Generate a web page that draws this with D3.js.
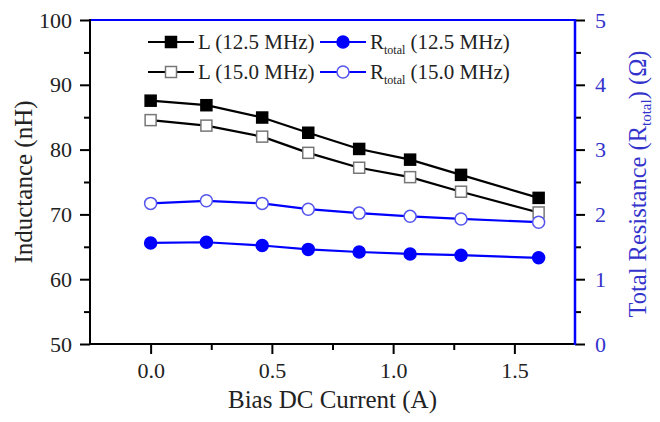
<!DOCTYPE html>
<html><head><meta charset="utf-8">
<script src="https://cdn.jsdelivr.net/npm/d3@7"></script>
<style>body{margin:0;background:#fff}svg{display:block}text{font-family:"Liberation Serif","Times New Roman",serif}</style>
</head><body>
<svg id="c" width="660" height="422"></svg>
<script>
const current = [0.0, 0.23, 0.46, 0.65, 0.86, 1.07, 1.28, 1.60];
const L125 = [87.55, 86.85, 84.95, 82.6, 80.1, 78.45, 76.1, 72.55];
const L150 = [84.55, 83.7, 82.0, 79.5, 77.2, 75.75, 73.5, 70.3];
const R125 = [1.56, 1.57, 1.52, 1.46, 1.42, 1.39, 1.37, 1.33];
const R150 = [2.17, 2.21, 2.17, 2.08, 2.02, 1.97, 1.93, 1.88];
const xTicks = [0.0, 0.5, 1.0, 1.5];
const yLTicks = [50, 60, 70, 80, 90, 100];
const yRTicks = [0, 1, 2, 3, 4, 5];

const svg = d3.select("#c");
const m = {l:90, r:575, t:20, b:344};
const x = d3.scaleLinear().domain([-0.25, 1.75]).range([m.l, m.r]);
const yL = d3.scaleLinear().domain([50, 100]).range([m.b, m.t]);
const yR = d3.scaleLinear().domain([0, 5]).range([m.b, m.t]);
const blue = "#0000ff";
const fs = 22;

// x axis
const gx = svg.append("g").attr("transform",`translate(0,${m.b})`);
gx.call(d3.axisBottom(x).tickValues([0.25,0.75,1.25]).tickSize(6).tickFormat(""));
gx.select(".domain").remove(); gx.selectAll("line").attr("stroke","#000").attr("stroke-width",2);
const gx2 = svg.append("g").attr("transform",`translate(0,${m.b})`);
gx2.call(d3.axisBottom(x).tickValues(xTicks).tickSize(10).tickPadding(8).tickFormat(d3.format(".1f")));
gx2.select(".domain").remove();
gx2.selectAll("line").attr("stroke","#000").attr("stroke-width",2);
gx2.selectAll("text").attr("font-size",fs).attr("fill","#222").attr("font-family","Liberation Serif");

// left axis
const gl = svg.append("g").attr("transform",`translate(${m.l},0)`);
gl.call(d3.axisLeft(yL).tickValues([55,65,75,85,95]).tickSize(6).tickFormat(""));
gl.select(".domain").remove(); gl.selectAll("line").attr("stroke","#000").attr("stroke-width",2);
const gl2 = svg.append("g").attr("transform",`translate(${m.l},0)`);
gl2.call(d3.axisLeft(yL).tickValues(yLTicks).tickSize(10).tickPadding(8));
gl2.select(".domain").remove(); gl2.selectAll("line").attr("stroke","#000").attr("stroke-width",2);
gl2.selectAll("text").attr("font-size",fs).attr("fill","#222").attr("font-family","Liberation Serif");

// right axis
const gr = svg.append("g").attr("transform",`translate(${m.r},0)`);
gr.call(d3.axisRight(yR).tickValues([0.5,1.5,2.5,3.5,4.5]).tickSize(6).tickFormat(""));
gr.select(".domain").remove(); gr.selectAll("line").attr("stroke","#000").attr("stroke-width",2);
const gr2 = svg.append("g").attr("transform",`translate(${m.r},0)`);
gr2.call(d3.axisRight(yR).tickValues(yRTicks).tickSize(10).tickPadding(10).tickFormat(d3.format("d")));
gr2.select(".domain").remove(); gr2.selectAll("line").attr("stroke","#000").attr("stroke-width",2);
gr2.selectAll("text").attr("font-size",fs).attr("fill","#3333cc").attr("font-family","Liberation Serif");

// frame
svg.append("line").attr("x1",m.l).attr("x2",m.r).attr("y1",m.t).attr("y2",m.t).attr("stroke",blue).attr("stroke-width",2);
svg.append("line").attr("x1",m.l-1).attr("x2",m.r).attr("y1",m.b).attr("y2",m.b).attr("stroke","#000").attr("stroke-width",2);
svg.append("line").attr("x1",m.l).attr("x2",m.l).attr("y1",m.t-1).attr("y2",m.b+1).attr("stroke","#000").attr("stroke-width",2);
svg.append("line").attr("x1",m.r).attr("x2",m.r).attr("y1",m.t-1).attr("y2",m.b+1).attr("stroke",blue).attr("stroke-width",2.5);

// titles
svg.append("text").attr("x",(m.l+m.r)/2).attr("y",408).attr("text-anchor","middle").attr("font-size",25).attr("fill","#222").text("Bias DC Current (A)");
svg.append("text").attr("transform",`translate(32,${182}) rotate(-90)`).attr("text-anchor","middle").attr("font-size",25).attr("fill","#222").text("Inductance (nH)");
const rt = svg.append("text").attr("transform",`translate(646,184) rotate(-90)`).attr("text-anchor","middle").attr("font-size",24.5).attr("fill","#3333cc");
rt.append("tspan").text("Total Resistance (R");
rt.append("tspan").attr("font-size",15).attr("dy",5).text("total");
rt.append("tspan").attr("dy",-5).text(") (\u03A9)");

// series
const series = [
  {ys:L125, sc:yL, line:"#000", shape:"square", fill:"#000", stroke:"#000"},
  {ys:L150, sc:yL, line:"#000", shape:"square", fill:"#fff", stroke:"#777"},
  {ys:R150, sc:yR, line:blue, shape:"circle", fill:"#fff", stroke:"#5555ee"},
  {ys:R125, sc:yR, line:blue, shape:"circle", fill:blue, stroke:blue}
];
function marker(g, shape, cx, cy, fill, stroke){
  if(shape==="square") g.append("rect").attr("x",cx-5.5).attr("y",cy-5.5).attr("width",11).attr("height",11).attr("fill",fill).attr("stroke",stroke).attr("stroke-width",1.5);
  else g.append("circle").attr("cx",cx).attr("cy",cy).attr("r",6).attr("fill",fill).attr("stroke",stroke).attr("stroke-width",1.5);
}
series.forEach(s=>{
  const pts = current.map((c,i)=>[x(c), s.sc(s.ys[i])]);
  svg.append("path").attr("d",d3.line()(pts)).attr("fill","none").attr("stroke",s.line).attr("stroke-width",2.2);
  const g = svg.append("g");
  pts.forEach(p=>marker(g, s.shape, p[0], p[1], s.fill, s.stroke));
});

// legend
const leg = [
  {x1:148, y:42, line:"#000", shape:"square", fill:"#000", stroke:"#000", lab:["L (12.5 MHz)"]},
  {x1:320, y:42, line:blue, shape:"circle", fill:blue, stroke:blue, lab:["R","total"," (12.5 MHz)"]},
  {x1:148, y:72, line:"#000", shape:"square", fill:"#fff", stroke:"#777", lab:["L (15.0 MHz)"]},
  {x1:320, y:72, line:blue, shape:"circle", fill:"#fff", stroke:"#5555ee", lab:["R","total"," (15.0 MHz)"]}
];
leg.forEach(d=>{
  svg.append("line").attr("x1",d.x1).attr("x2",d.x1+46).attr("y1",d.y).attr("y2",d.y).attr("stroke",d.line).attr("stroke-width",2.2);
  marker(svg, d.shape, d.x1+23, d.y, d.fill, d.stroke);
  const t = svg.append("text").attr("x",d.x1+50).attr("y",d.y+7).attr("font-size",21).attr("fill","#222");
  if(d.lab.length===1) t.text(d.lab[0]);
  else { t.append("tspan").text(d.lab[0]); t.append("tspan").attr("font-size",12).attr("dy",5).text(d.lab[1]); t.append("tspan").attr("dy",-5).text(d.lab[2]); }
});
</script>
</body></html>
